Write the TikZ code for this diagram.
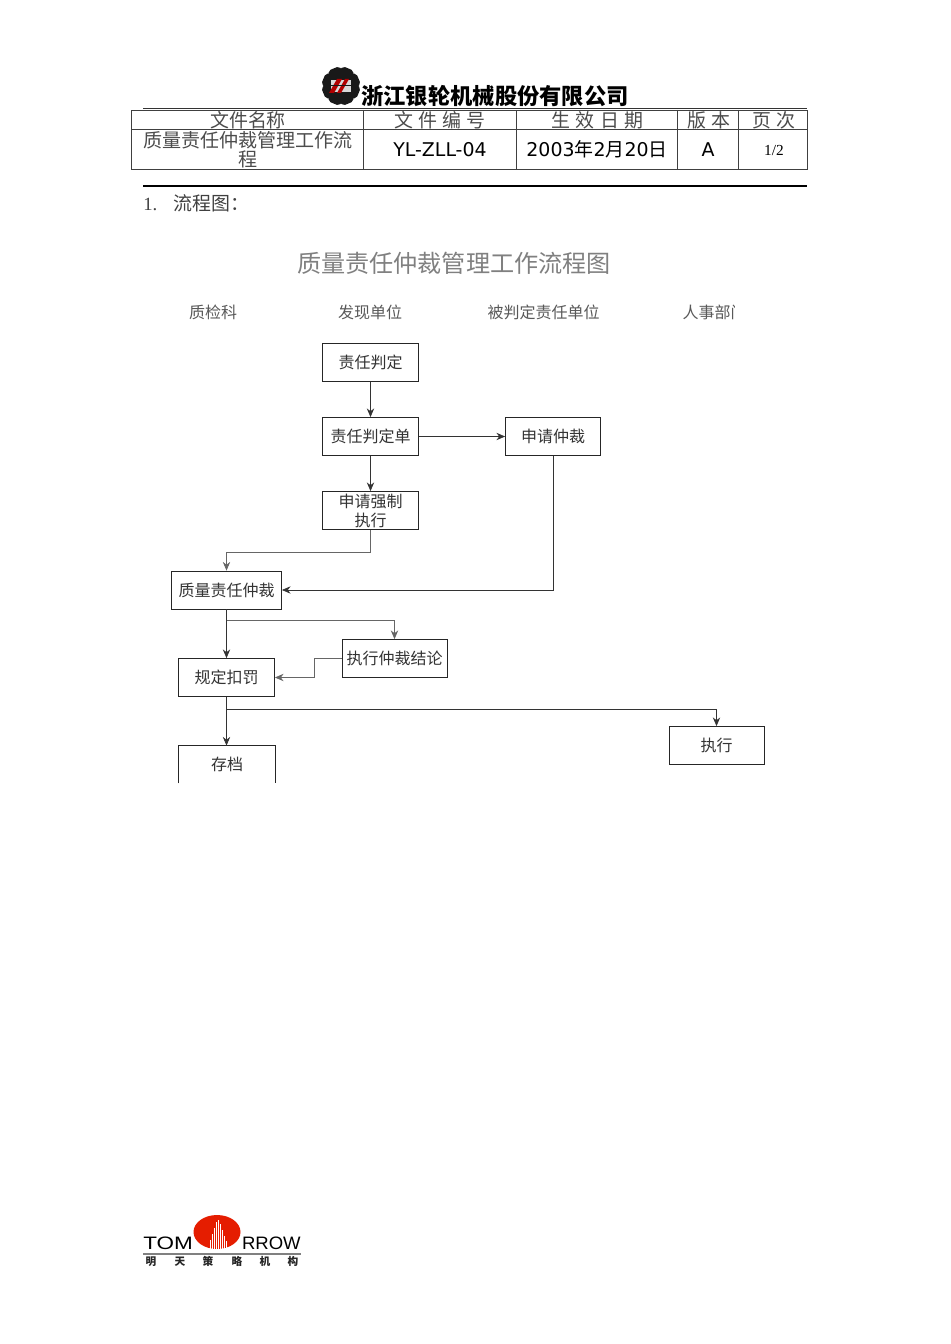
\documentclass[tikz,border=0pt]{standalone}
\usepackage{fontspec}
\usetikzlibrary{arrows.meta,calc}
\setmainfont{Liberation Serif}
\newfontfamily\cjk{Noto Sans CJK SC}
\newfontfamily\djv{DejaVu Sans}
\newfontfamily\lsans{Liberation Sans}
\tikzset{
  flowbox/.style={draw=black!85,line width=.6pt,minimum height=28.5pt,inner sep=0pt,align=center,font=\cjk\fontsize{12}{14.2}\selectfont,text=black!80},
  bw/.style={minimum width=#1*.75pt},
  conn/.style={draw=black!80,line width=.55pt,-{Stealth[length=6.5pt,width=5.5pt]}},
  line/.style={draw=black!80,line width=.55pt},
  cell/.style={inner sep=0pt,font=\cjk\fontsize{14.2}{14.2}\selectfont,text=black!70},
  latin/.style={inner sep=0pt,font=\djv\fontsize{14.2}{16}\selectfont,text=black},
  lane/.style={inner sep=0pt,font=\cjk\fontsize{12}{14}\selectfont,text=black!65},
  rule/.style={draw=black,line width=.8pt},
  grid/.style={draw=black!75,line width=.6pt},
  logoch/.style={inner sep=0pt,font=\cjk\bfseries\fontsize{8}{8}\selectfont,text=black!85},
  logotxt/.style={inner sep=0pt,font=\lsans\fontsize{13.5}{13.5}\selectfont,transform shape,text=black},
}
\begin{document}
\begin{tikzpicture}[x=.75pt,y=-.75pt]
\useasboundingbox[fill=white] (0,0) rectangle (950,1344);
% gear logo
\fill[black!90] (341,86) circle (16);
\foreach \a in {22.5,67.5,...,337.5}{
  \fill[black!90,rounded corners=1.5pt,rotate around={\a:(341,86)}] (335.5,67) -- (346.5,67) -- (350,76) -- (332,76) -- cycle;
}
\fill[black!15] (331,80) rectangle (351,92);
\fill[red!70!black] (329,93) -- (337,79) -- (342,79) -- (334,93) -- cycle;
\fill[red!70!black] (337,93) -- (345,79) -- (349,79) -- (341,93) -- cycle;
\fill[black!90] (331,85.2) rectangle (351,86.2);
% company title
\node[inner sep=0pt,anchor=center,font=\cjk\bfseries\fontsize{16.7}{18}\selectfont] (company) at (495,96) {浙江银轮机械股份有限公司};
\draw[rule,line width=1.3pt,draw=black!80] (143,108.5) -- (807,108.5);
% table
\draw[grid] (131.5,110) rectangle (807.5,169);
\draw[grid] (131.5,129) -- (807.5,129);
\foreach \x in {363.5,516.5,677.5,738.5} \draw[grid] (\x,110) -- (\x,169);
\node[cell] (h1) at (248,120) {文件名称};
\node[cell] (h2) at (440,120) {文\hspace{4pt}件\hspace{4pt}编\hspace{4pt}号};
\node[cell] (h3) at (597.5,120) {生\hspace{4pt}效\hspace{4pt}日\hspace{4pt}期};
\node[cell] (h4) at (709,120) {版\hspace{4.5pt}本};
\node[cell] (h5) at (774,120) {页\hspace{4.5pt}次};
\node[inner sep=0pt,align=center,font=\cjk\fontsize{14.3}{14.2}\selectfont,text=black!70] (c1) at (248,149.5) {质量责任仲裁管理工作流\\程};
\node[latin] (c2) at (440,149.5) {YL-ZLL-04};
\node[latin] (c3) at (597,149.5) {2003{\cjk 年}2{\cjk 月}20{\cjk 日}};
\node[latin] (c4) at (708,149.5) {A};
\node[inner sep=0pt,font=\fontsize{11.5}{12}\selectfont] (c5) at (774,151) {1/2};
\draw[rule,line width=.9pt] (143,186) -- (807,186);
\node[inner sep=0pt,anchor=west,font=\fontsize{14}{14}\selectfont,text=black!75] (sec) at (143,203) {1.\hspace{12pt}{\cjk\fontsize{14.2}{14}\selectfont 流程图：}};
% flow title
\node[inner sep=0pt,font=\cjk\fontsize{18.1}{20}\selectfont,text=black!50] (ftitle) at (454,263) {质量责任仲裁管理工作流程图};
% lanes
\node[lane] (l1) at (213,312.5) {质检科};
\node[lane] (l2) at (370,312.5) {发现单位};
\node[lane] (l3) at (543.5,312.5) {被判定责任单位};
\node[lane] (l4) at (714.5,312.5) {人事部门};
\fill[white] (735,304) rectangle (746,321);
% boxes
\node[flowbox,bw=96] (a) at (370.5,362.5) {责任判定};
\node[flowbox,bw=96] (b) at (370.5,436.5) {责任判定单};
\node[flowbox,bw=96] (c) at (370.5,510.5) {申请强制\\执行};
\node[flowbox,bw=95] (d) at (553,436.5) {申请仲裁};
\node[flowbox,bw=110] (e) at (226.5,590) {质量责任仲裁};
\node[flowbox,bw=96] (f) at (226.5,677.5) {规定扣罚};
\node[flowbox,bw=105] (g) at (394.5,658.5) {执行仲裁结论};
\node[flowbox,bw=96,draw=none,minimum height=27.75pt] (h) at (227,764.5) {存档};
\draw[line,line width=.6pt,draw=black!85] (h.south west) -- (h.north west) -- (h.north east) -- (h.south east);
\node[flowbox,bw=95] (i) at (716.5,745.5) {执行};
% connectors
\coordinate (j1) at (370.5,552);
\coordinate (j2) at (226.5,552);
\coordinate (j3) at (553,590);
\coordinate (j4) at (226.5,620);
\coordinate (j5) at (394.5,620);
\coordinate (j6) at (314,658.5);
\coordinate (j7) at (314,677.5);
\coordinate (j8) at (226.5,709);
\coordinate (j9) at (716.5,709);
\draw[conn] (a) -- (b);
\draw[conn] (b) -- (c);
\draw[conn] (b) -- (d);
\draw[conn,draw=black!60] (c.south) -- (j1) -- (j2) -- (e.north);
\draw[conn] (d.south) -- (j3) -- (e.east);
\draw[conn] (e.south) -- (f.north);
\draw[conn,draw=black!60] (j4) -- (j5) -- (g.north);
\draw[conn,draw=black!60] (g.west) -- (j6) -- (j7) -- (f.east);
\draw[conn] (f.south) -- (f.south |- h.north);
\draw[conn] (j8) -- (j9) -- (i.north);
% footer logo
\fill[red!75!orange!90!black] (217,1232) ellipse (23.5 and 17);
\foreach \x/\t in {210/1240,212/1234,214/1228,216/1222,218/1220,220/1224,222/1230,224/1236,226/1241}
  \draw[white,line width=.7pt] (\x,1249) -- (\x,\t);
\fill[white] (190,1249) rectangle (245,1253);
\node[logotxt,anchor=west,xscale=1.25] (tom) at (143,1243.5) {TOM};
\node[logotxt,anchor=east,xscale=1.03] (rrow) at (301,1243.5) {RROW};
\draw[draw=black!50,line width=1.1pt] (143,1254) -- (301,1254);
\node[logoch] (m1) at (151,1261.5) {明};
\node[logoch] (m2) at (180,1261.5) {天};
\node[logoch] (m3) at (208,1261.5) {策};
\node[logoch] (m4) at (237,1261.5) {略};
\node[logoch] (m5) at (265,1261.5) {机};
\node[logoch] (m6) at (293,1261.5) {构};
\end{tikzpicture}
\end{document}
